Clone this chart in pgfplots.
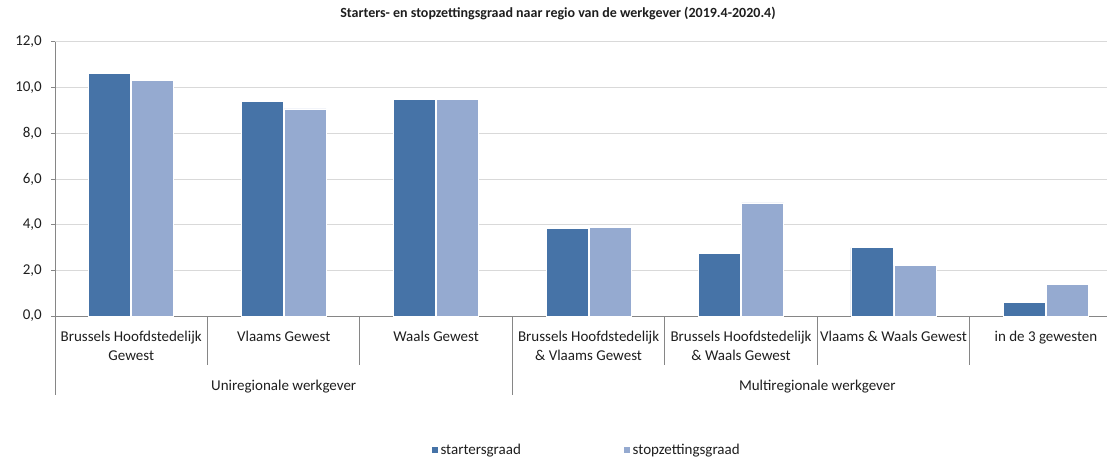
\documentclass[border=0pt]{standalone}
\usepackage{pgfplots}
\pgfplotsset{compat=1.18}
\usepackage{fontspec}
\setmainfont{Carlito}
\definecolor{darkbar}{RGB}{70,115,167}
\definecolor{lightbar}{RGB}{149,170,208}
\definecolor{gridc}{RGB}{217,217,217}
\definecolor{axc}{RGB}{134,134,134}
\definecolor{txt}{RGB}{30,30,30}
\begin{document}
\fontsize{15}{19}\selectfont
\begin{tikzpicture}[x=1pt,y=1pt]
\useasboundingbox (0,0) rectangle (1107,461);
\begin{axis}[
  at={(55pt,145pt)}, anchor=south west,
  scale only axis, width=1052pt, height=274pt,
  xmin=-0.5, xmax=6.4, ymin=0, ymax=12,
  ybar=1pt, bar width=42pt,
  ytick={0,2,...,12},
  ymajorgrids, grid style={gridc, line width=1pt},
  axis x line*=bottom, axis y line*=left,
  axis line style={axc, line width=1pt},
  ytick style={axc, line width=1pt}, tick align=outside, major tick length=4pt,
  xtick=data, xtick style={draw=none},
  xticklabels={{Brussels Hoofdstedelijk\\Gewest},{Vlaams Gewest},{Waals Gewest},{Brussels Hoofdstedelijk\\\& Vlaams Gewest},{Brussels Hoofdstedelijk\\\& Waals Gewest},{Vlaams \& Waals Gewest},{in de 3 gewesten}},
  xticklabel style={align=center, anchor=north, font=\fontsize{15}{19}\selectfont, text=txt, yshift=-6pt},
  yticklabel style={font=\fontsize{15}{19}\selectfont, text=txt, xshift=-4pt},
  /pgf/number format/.cd, fixed, fixed zerofill, precision=1, use comma, assume math mode=true,
  /pgfplots/.cd,
  legend style={draw=none, at={(0.505,-0.49)}, anchor=center, legend columns=2,
    font=\fontsize{15}{19}\selectfont, text=txt,
    /tikz/every even column/.append style={column sep=100pt}},
  legend image code/.code={\fill[#1] (0pt,-3.5pt) rectangle (7pt,3.5pt);},
  clip=false,
]
\addplot[fill=darkbar, draw=white, line width=0.8pt] coordinates {(0,10.64) (1,9.39) (2,9.47) (3,3.82) (4,2.73) (5,2.99) (6,0.61)};
\addplot[fill=lightbar, draw=white, line width=0.8pt] coordinates {(0,10.31) (1,9.07) (2,9.47) (3,3.88) (4,4.95) (5,2.22) (6,1.40)};
\legend{startersgraad,stopzettingsgraad}
\foreach \s in {0.5,1.5,3.5,4.5,5.5} {
  \edef\tmp{\noexpand\draw[axc, line width=1pt] (axis cs:\s,0) -- ([yshift=-49pt]axis cs:\s,0);}\tmp
}
\foreach \s in {-0.5,2.5} {
  \edef\tmp{\noexpand\draw[axc, line width=1pt] (axis cs:\s,0) -- ([yshift=-79pt]axis cs:\s,0);}\tmp
}
\node[text=txt, font=\fontsize{15}{19}\selectfont] at ([yshift=-71pt]axis cs:1,0) {Uniregionale werkgever};
\node[text=txt, font=\fontsize{15}{19}\selectfont] at ([yshift=-71pt]axis cs:4.5,0) {Multiregionale werkgever};
\end{axis}
\node[font=\bfseries\fontsize{14}{17}\selectfont, text=txt] at (558,448) {Starters- en stopzettingsgraad naar regio van de werkgever (2019.4-2020.4)};
\end{tikzpicture}
\end{document}
